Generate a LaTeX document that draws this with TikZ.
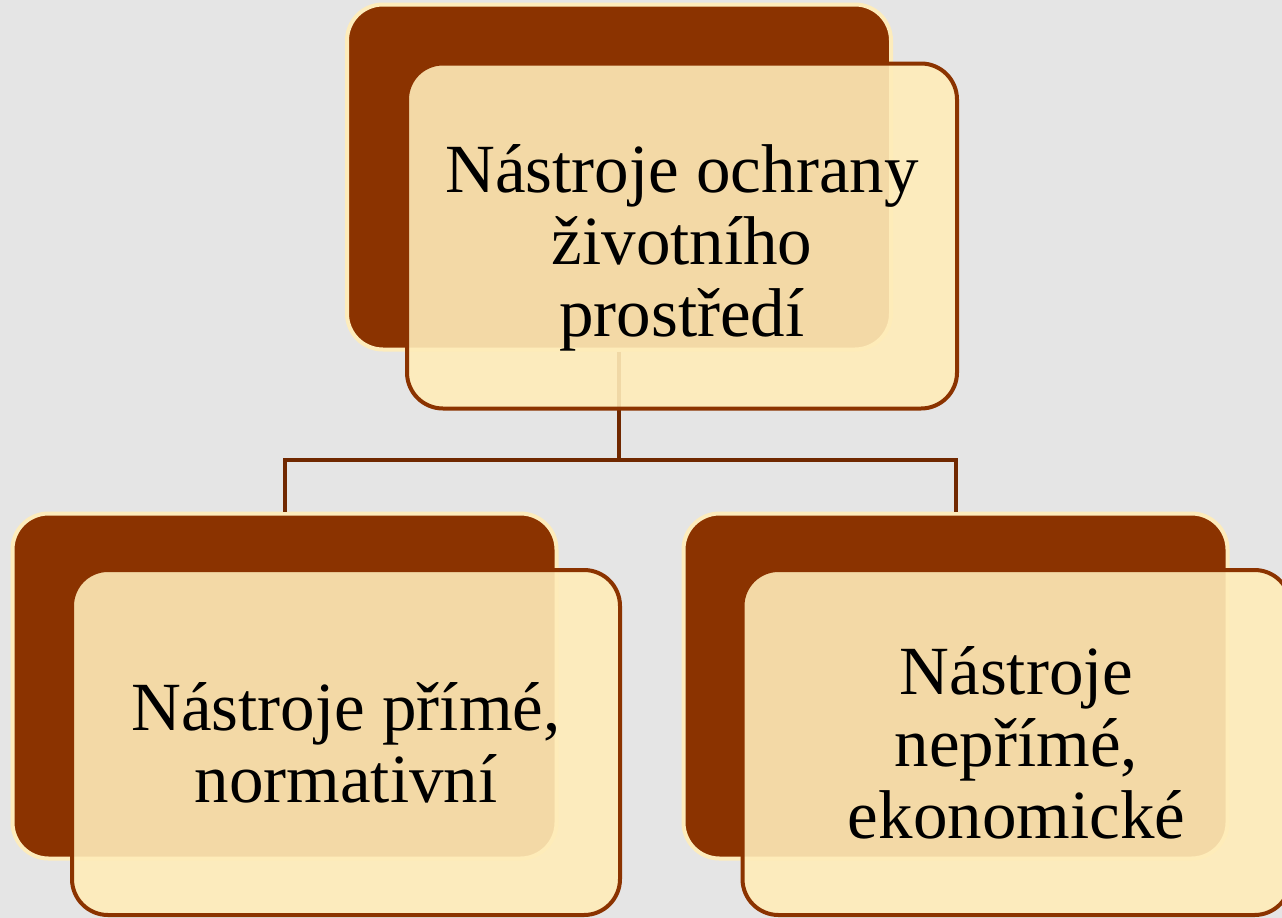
\documentclass[tikz,border=0pt]{standalone}
\usepackage{fontspec}
\setmainfont{Liberation Serif}
\definecolor{bgGray}{RGB}{229,229,229}
\definecolor{darkBrown}{RGB}{139,51,0}
\definecolor{lineBrown}{RGB}{112,40,0}
\definecolor{paleCream}{RGB}{253,236,188}
\definecolor{frontFill}{RGB}{255,236,185}
\begin{document}
\begin{tikzpicture}[x=1pt,y=-1pt,
  every node/.style={font=\fontsize{69}{72}\selectfont},
  backbox/.style={rectangle,rounded corners=36pt,fill=darkBrown,draw=paleCream,
    line width=4pt,minimum width=544pt,minimum height=345pt,inner sep=0pt},
  frontbox/.style={rectangle,rounded corners=36pt,fill=frontFill,fill opacity=0.9,
    text opacity=1,draw=darkBrown,line width=4pt,minimum width=548pt,
    minimum height=345pt,inner sep=0pt,align=center},
  link/.style={draw=lineBrown,line width=4pt}]

\fill[bgGray] (0,0) rectangle (1282,918);
\useasboundingbox (0,0) rectangle (1282,918);

\node[backbox] (topback) at (619,177) {};
\node[backbox] (leftback) at (284.5,686) {};
\node[backbox] (rightback) at (955.5,686) {};

\coordinate (fork) at (619,460);
\draw[link] (topback.south) -- (fork);
\draw[link] (leftback.north) |- (fork) -| (rightback.north);

\node[frontbox,minimum width=550pt] (top) at (682,236)
  {\rule{0pt}{72pt}Nástroje ochrany\\životního\\prostředí};
\node[frontbox] (left) at (346,742.5)
  {Nástroje přímé,\\normativní};
\node[frontbox] (right) at (1016.5,742.5)
  {Nástroje\\nepřímé,\\ekonomické};

\end{tikzpicture}
\end{document}
